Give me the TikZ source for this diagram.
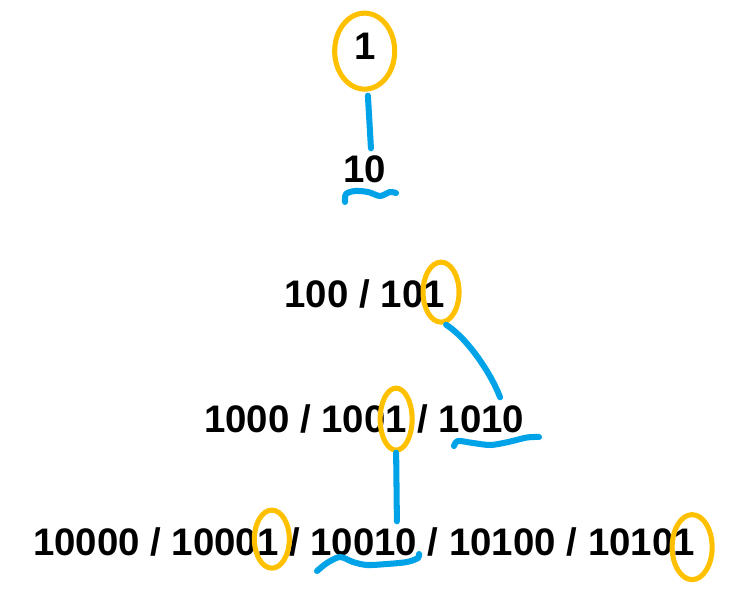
\documentclass[tikz,border=0pt]{standalone}
\usepackage{fontspec}
\setmainfont{Liberation Sans}
\usetikzlibrary{
  positioning,
  calc,
  shapes.geometric
}
\definecolor{marca}{RGB}{255,192,0}
\definecolor{traco}{RGB}{0,162,232}
\newcommand{\pxu}{0.025cm}

\begin{document}
\begin{tikzpicture}[
    x=\pxu, y=-\pxu,
    node distance=0pt,
    num/.style={inner sep=0pt, outer sep=0pt, text height=19.7pt, text depth=0pt,
      font=\fontsize{27.3}{32}\selectfont\bfseries},
    barra/.style={num, inner xsep=7.59pt},
    anel/.style={draw=marca, line width=3.6pt, ellipse, inner sep=0pt},
    pincel/.style={draw=traco, line width=4.3pt, line cap=round, line join=round}
    ]

    \useasboundingbox (0,0) rectangle (737,602);

    % linha 1
    \node[num, anchor=base west] (d1) at (354,60) {1};

    % linha 2
    \node[num, anchor=base west] (n10) at (343,183) {10};

    % linha 3
    \node[num, anchor=base west] (n100) at (284.6,308) {100};
    \node[barra, right=of n100] (b31) {/};
    \node[num, right=of b31] (p101) {10};
    \node[num, right=of p101] (d101) {1};

    % linha 4
    \node[num, anchor=base west] (n1000) at (204,433) {1000};
    \node[barra, right=of n1000] (b41) {/};
    \node[num, right=of b41] (p1001) {100};
    \node[num, right=of p1001] (d1001) {1};
    \node[barra, right=of d1001] (b42) {/};
    \node[num, right=of b42] (n1010) {1010};

    % linha 5
    \node[num, anchor=base west] (n10000) at (33,556) {10000};
    \node[barra, right=of n10000] (b51) {/};
    \node[num, right=of b51] (p10001) {1000};
    \node[num, right=of p10001] (d10001) {1};
    \node[barra, right=of d10001] (b52) {/};
    \node[num, right=of b52] (n10010) {10010};
    \node[barra, right=of n10010] (b53) {/};
    \node[num, right=of b53] (n10100) {10100};
    \node[barra, right=of n10100] (b54) {/};
    \node[num, right=of b54] (p10101) {1010};
    \node[num, right=of p10101] (d10101) {1};

    % aneis
    \node[anel, minimum width=60*\pxu, minimum height=76*\pxu] (c1) at ($(d1)+(0,5)$) {};
    \node[anel, minimum width=36*\pxu, minimum height=60*\pxu] (c101) at ($(d101)+(7,-2)$) {};
    \node[anel, minimum width=32*\pxu, minimum height=62*\pxu] (c1001) at ($(d1001)+(0,0)$) {};
    \node[anel, minimum width=35*\pxu, minimum height=58*\pxu] (c10001) at ($(d10001)+(4,-3)$) {};
    \node[anel, minimum width=40*\pxu, minimum height=65*\pxu] (c10101) at ($(d10101)+(8,5)$) {};

    % ligacoes
    \draw[pincel, shorten <=4*\pxu] ([xshift=3*\pxu]c1.south)
    -- ([xshift=6.6*\pxu, yshift=7*\pxu]n10.north);

    \draw[pincel] ([xshift=5*\pxu]c101.south)
    .. controls +(22,14) and +(-8,-22) ..
    ([xshift=18.5*\pxu, yshift=8*\pxu]n1010.north);

    \draw[pincel] (c1001.south)
    -- ([xshift=33*\pxu, yshift=7*\pxu]n10010.north);

    % sublinhados
    \draw[pincel]
    plot[smooth]
    coordinates{
    (345,202) (346,194) (355,191) (368,192) (380,196) (390,192) (396,193)
    };

    \draw[pincel]
    plot[smooth]
    coordinates{
    (454,446) (458,441) (473,443) (490,445) (506,442.5) (527,437.5) (539,437)
    };

    \draw[pincel]
    plot[smooth]
    coordinates{
    (317,571) (327,563) (340,557) (353,562) (367,565) (387,564) (407,562) (418,558) (419,554)
    };

\end{tikzpicture}
\end{document}
